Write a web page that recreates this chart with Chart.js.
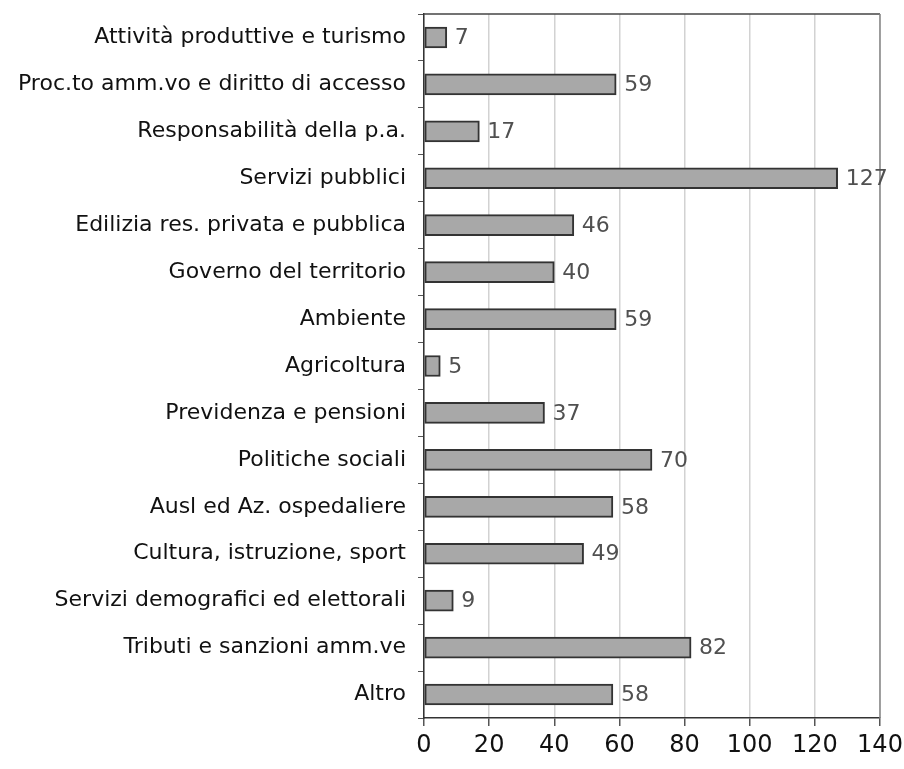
<!DOCTYPE html>
<html>
<head>
<meta charset="utf-8">
<script src="https://cdn.jsdelivr.net/npm/chart.js@4"></script>
<style>
  html, body { margin: 0; padding: 0; background: #fff; }
  #wrap { width: 904px; height: 769px; }
</style>
</head>
<body>
<div id="wrap"><canvas id="chart" width="904" height="769"></canvas></div>
<script>
var categories = [
  "Attività produttive e turismo",
  "Proc.to amm.vo e diritto di accesso",
  "Responsabilità della p.a.",
  "Servizi pubblici",
  "Edilizia res. privata e pubblica",
  "Governo del territorio",
  "Ambiente",
  "Agricoltura",
  "Previdenza e pensioni",
  "Politiche sociali",
  "Ausl ed Az. ospedaliere",
  "Cultura, istruzione, sport",
  "Servizi demografici ed elettorali",
  "Tributi e sanzioni amm.ve",
  "Altro"
];
var values = [7, 59, 17, 127, 46, 40, 59, 5, 37, 70, 58, 49, 9, 82, 58];
var xMin = 0, xMax = 140, xStep = 20;

// writes the value next to each bar
var barValues = {
  id: "barValues",
  afterDatasetsDraw: function(chart) {
    var ctx = chart.ctx;
    var meta = chart.getDatasetMeta(0);
    ctx.save();
    ctx.font = "22px 'DejaVu Sans'";
    ctx.fillStyle = "#505050";
    ctx.textAlign = "left";
    ctx.textBaseline = "middle";
    meta.data.forEach(function(bar, i) {
      ctx.fillText(values[i], bar.x + 8, bar.y + 1);
    });
    ctx.restore();
  }
};

// frame: dark top line, grey right line
var frame = {
  id: "frame",
  beforeDatasetsDraw: function(chart) {
    var a = chart.chartArea, ctx = chart.ctx;
    ctx.save();
    ctx.lineWidth = 1.5;
    ctx.strokeStyle = "#444";
    ctx.beginPath();
    ctx.moveTo(a.left, a.top);
    ctx.lineTo(a.right, a.top);
    ctx.stroke();
    ctx.strokeStyle = "#888";
    ctx.beginPath();
    ctx.moveTo(a.right, a.top);
    ctx.lineTo(a.right, a.bottom);
    ctx.stroke();
    ctx.restore();
  }
};

new Chart(document.getElementById("chart"), {
  type: "bar",
  data: {
    labels: categories,
    datasets: [{
      data: values,
      backgroundColor: "#a8a8a8",
      borderColor: "#333",
      borderWidth: 2,
      borderSkipped: false,
      barThickness: 21
    }]
  },
  options: {
    indexAxis: "y",
    responsive: false,
    animation: false,
    layout: { padding: { left: 0, right: 24, top: 14, bottom: 9 } },
    plugins: { legend: { display: false }, tooltip: { enabled: false } },
    scales: {
      x: {
        min: xMin, max: xMax,
        afterFit: function(s) { s.paddingLeft = 0; s.paddingRight = 0; s.height = 42; },
        ticks: { stepSize: xStep, color: "#111", font: { family: "DejaVu Sans", size: 24 }, padding: 5 },
        grid: { color: "#d2d2d2", lineWidth: 1.5, tickLength: 8, tickColor: "#555" },
        border: { color: "#333", width: 1.5 }
      },
      y: {
        afterFit: function(s) { s.width = 424; s.paddingTop = 0; s.paddingBottom = 0; },
        ticks: { color: "#111", font: { family: "DejaVu Sans", size: 22 }, padding: 12 },
        grid: { drawOnChartArea: false, tickLength: 6, tickColor: "#555", offset: true },
        border: { color: "#333", width: 1.5 }
      }
    }
  },
  plugins: [frame, barValues]
});
</script>
</body>
</html>
